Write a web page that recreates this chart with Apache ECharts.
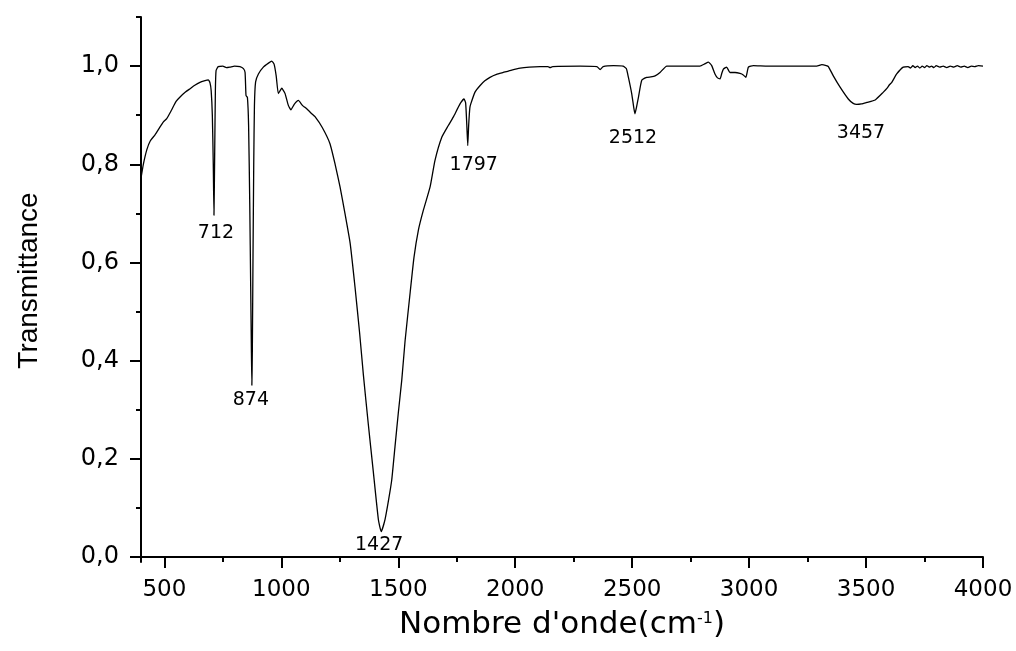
<!DOCTYPE html>
<html>
<head>
<meta charset="utf-8">
<script src="https://cdn.jsdelivr.net/npm/echarts@6/dist/echarts.min.js"></script>
<style>
html,body{margin:0;padding:0;background:#fff;}
#chart{width:1016px;height:651px;}
</style>
</head>
<body>
<div id="chart"></div>
<script>
// Wavenumber (cm-1) and transmittance
const wavenumbers = [400,410,425,440,460,480,495,510,530,550,567,590,610,630,652,670,688,695,700,705,709,712,715,718,721,730,750,765,780,800,823,838,845,849,855,860,865,869,872,874,876,879,882,885,890,902,923,945,959,969,978,987,995,1002,1009,1016,1030,1041,1055,1073,1090,1101,1115,1130,1144,1175,1208,1230,1251,1272,1294,1315,1335,1351,1372,1393,1415,1427,1443,1458,1472,1486,1500,1515,1529,1551,1567,1586,1607,1636,1657,1686,1714,1735,1764,1781,1788,1793,1797,1801,1806,1810,1828,1849,1870,1892,1920,1949,1985,2021,2060,2106,2140,2149,2160,2277,2349,2363,2376,2420,2461,2475,2484,2498,2507,2512,2518,2527,2541,2562,2580,2598,2619,2648,2700,2790,2812,2826,2840,2854,2865,2876,2883,2890,2904,2918,2940,2961,2975,2986,2997,3018,3080,3147,3220,3289,3311,3330,3339,3360,3389,3424,3445,3460,3480,3503,3539,3574,3590,3600,3610,3631,3659,3680,3690,3700,3710,3720,3730,3740,3750,3760,3770,3780,3790,3800,3815,3830,3845,3860,3875,3890,3905,3920,3935,3950,3965,3980,4000];
const transmittance = [0.772,0.800,0.830,0.848,0.860,0.875,0.886,0.893,0.910,0.928,0.937,0.947,0.954,0.961,0.967,0.970,0.972,0.966,0.950,0.900,0.800,0.696,0.820,0.950,0.991,0.999,1.000,0.997,0.998,1.000,0.999,0.995,0.987,0.940,0.936,0.880,0.720,0.550,0.420,0.350,0.420,0.620,0.800,0.920,0.968,0.984,0.998,1.006,1.010,1.004,0.980,0.944,0.950,0.955,0.950,0.944,0.920,0.911,0.922,0.930,0.920,0.916,0.910,0.903,0.897,0.875,0.842,0.800,0.754,0.700,0.640,0.550,0.455,0.370,0.270,0.175,0.076,0.052,0.076,0.115,0.157,0.225,0.293,0.361,0.440,0.540,0.610,0.666,0.706,0.754,0.808,0.855,0.879,0.896,0.923,0.933,0.925,0.880,0.838,0.880,0.915,0.923,0.947,0.960,0.970,0.977,0.983,0.987,0.992,0.996,0.998,0.999,0.999,0.997,0.999,1.000,0.999,0.993,0.999,1.001,1.000,0.995,0.977,0.944,0.915,0.903,0.915,0.937,0.971,0.977,0.978,0.980,0.987,1.000,1.000,1.000,1.005,1.008,1.001,0.984,0.976,0.974,0.985,0.994,0.998,0.987,0.987,0.985,0.982,0.977,0.998,1.001,1.000,1.000,1.000,1.000,1.003,1.001,0.999,0.980,0.957,0.933,0.924,0.922,0.923,0.926,0.931,0.947,0.955,0.962,0.967,0.984,0.998,0.999,0.996,1.001,0.997,1.000,0.996,1.000,0.997,1.001,0.998,1.000,0.997,1.001,0.998,1.000,0.997,1.000,0.998,1.001,0.998,1.000,0.997,1.000,0.999,1.001,1.000];

// Peak annotations
const peakNames = ['712','874','1427','1797','2512','3457'];
const peakWavenumbers = [712,874,1427,1797,2512,3457];
const peakLabelT = [0.659,0.320,0.025,0.798,0.854,0.863];

// Axis ticks
const xMajorTicks = [500,1000,1500,2000,2500,3000,3500,4000];
const xMinorTicks = [750,1250,1750,2250,2750,3250,3750];
const yMajorTicks = [0,0.2,0.4,0.6,0.8,1.0];
const yMinorTicks = [0.1,0.3,0.5,0.7,0.9,1.1];

const labelDx = [2,-1,-2,6,-2,5];

const chart = echarts.init(document.getElementById('chart'));
const axisColor = '#000';
const hFont = 'DejaVu Sans';

chart.setOption({
  animation: false,
  backgroundColor: '#fff',
  grid: {left: 141, right: 33, top: 17, bottom: 89},
  xAxis: [{
    type: 'value', min: 400, max: 4000,
    axisLine: {show: true, lineStyle: {color: axisColor, width: 2}},
    axisTick: {show: true, customValues: xMajorTicks, length: 11, lineStyle: {color: axisColor, width: 2}},
    axisLabel: {show: true, customValues: xMajorTicks, margin: 17, color: '#000', fontFamily: hFont, fontSize: 23,
      formatter: v => String(v)},
    splitLine: {show: false},
    name: "Nombre d'onde(cm{sup|-1})",
    nameLocation: 'middle',
    nameGap: 42,
    nameTextStyle: {
      color: '#000', fontFamily: hFont, fontSize: 31, lineHeight: 36,
      rich: {sup: {fontFamily: hFont, fontSize: 16, color: '#000', verticalAlign: 'top', lineHeight: 16, padding: [4,0,0,0]}}
    }
  }, {
    type: 'value', min: 400, max: 4000, position: 'bottom',
    axisLine: {show: false},
    axisTick: {show: true, customValues: xMinorTicks, length: 5, lineStyle: {color: axisColor, width: 2}},
    axisLabel: {show: false},
    splitLine: {show: false}
  }],
  yAxis: [{
    type: 'value', min: -0.01, max: 1.1,
    axisLine: {show: true, lineStyle: {color: axisColor, width: 2}},
    axisTick: {show: true, customValues: yMajorTicks, length: 11, lineStyle: {color: axisColor, width: 2}},
    axisLabel: {show: true, customValues: yMajorTicks, margin: 22, color: '#000', fontFamily: hFont, fontSize: 24,
      formatter: v => v.toFixed(1).replace('.', ',')},
    splitLine: {show: false},
    name: 'Transmittance',
    nameLocation: 'middle',
    nameGap: 98,
    nameRotate: 90,
    nameTextStyle: {color: '#000', fontFamily: 'Liberation Sans', fontSize: 28, padding: [0,0,0,18]}
  }, {
    type: 'value', min: -0.01, max: 1.1, position: 'left',
    axisLine: {show: false},
    axisTick: {show: true, customValues: yMinorTicks, length: 5, lineStyle: {color: axisColor, width: 2}},
    axisLabel: {show: false},
    splitLine: {show: false}
  }],
  series: [{
    type: 'line',
    xAxisIndex: 0, yAxisIndex: 0,
    data: wavenumbers.map((v, i) => [v, transmittance[i]]),
    showSymbol: false,
    symbol: 'none',
    smooth: 0.15,
    lineStyle: {color: '#000', width: 1.3},
    silent: true
  }, {
    type: 'scatter',
    xAxisIndex: 0, yAxisIndex: 0,
    symbolSize: 0,
    silent: true,
    itemStyle: {opacity: 1, color: '#000'},
    data: peakWavenumbers.map((v, i) => ({
      value: [v, peakLabelT[i]],
      name: peakNames[i],
      label: {offset: [labelDx[i], 0]}
    })),
    label: {show: true, position: 'inside', formatter: p => p.name, color: '#000', opacity: 1, textBorderWidth: 0,
      fontFamily: hFont, fontSize: 19}
  }]
});
</script>
</body>
</html>
